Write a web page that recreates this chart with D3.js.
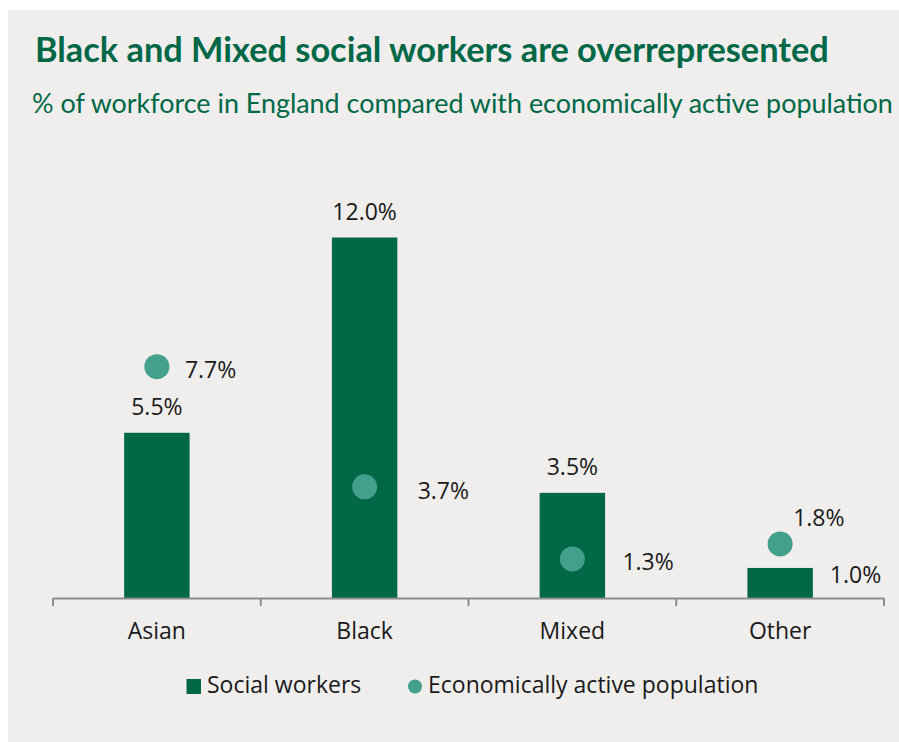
<!DOCTYPE html>
<html>
<head>
<meta charset="utf-8">
<script src="https://cdn.jsdelivr.net/npm/d3@7"></script>
<style>
  html, body { margin: 0; padding: 0; background: #ffffff; }
  svg { display: block; }
</style>
</head>
<body>
<svg id="chart" width="899" height="742"></svg>
<script>
// Ethnicity groups and the two series being compared (% of total)
const categories = ["Asian", "Black", "Mixed", "Other"];
const socialWorkers = [5.5, 12.0, 3.5, 1.0];
const activePopulation = [7.7, 3.7, 1.3, 1.8];
const seriesNames = ["Social workers", "Economically active population"];

// Label placement for each group
const barLabelPlacement = ["top", "top", "top", "right"];
const dotLabelOffset = [[28, 11], [53, 12], [50, 11], [13, -18]];

const W = 899, H = 742;
const green = "#006747";
const teal = "#43a08c";
const textColor = "#1a1a1a";
const bodyFont = "'Open Sans', 'Noto Sans', sans-serif";
const bodySize = 23;

const svg = d3.select("#chart");

// panel background
svg.append("rect")
  .attr("x", 8).attr("y", 10)
  .attr("width", W - 8).attr("height", H - 10)
  .attr("fill", "#efeeec");

// scale a text's font size so it spans the given width
function fitText(sel, target) {
  const node = sel.node();
  const base = parseFloat(sel.attr("font-size"));
  const w = node.getComputedTextLength();
  sel.attr("font-size", (base * target / w).toFixed(2));
}

const title = svg.append("text")
  .attr("x", 35).attr("y", 62)
  .attr("font-family", "Lato, 'Open Sans', sans-serif")
  .attr("font-weight", 700)
  .attr("font-size", 28)
  .attr("fill", green)
  .text("Black and Mixed social workers are overrepresented");
fitText(title, 794);

const subtitle = svg.append("text")
  .attr("x", 32).attr("y", 113)
  .attr("font-family", "Lato, 'Open Sans', sans-serif")
  .attr("font-size", 22)
  .attr("fill", green)
  .text("% of workforce in England compared with economically active population");
fitText(subtitle, 861);

// scales
const x = d3.scaleBand().domain(categories).range([53, 884]).padding(0);
const y = d3.scaleLinear().domain([0, 12]).range([598, 237.5]);
const barW = x.bandwidth() * 0.315;
const cx = d => x(d) + x.bandwidth() / 2;

// bars
svg.append("g").selectAll("rect")
  .data(categories)
  .join("rect")
  .attr("x", d => cx(d) - barW / 2)
  .attr("y", (d, i) => y(socialWorkers[i]))
  .attr("width", barW)
  .attr("height", (d, i) => y(0) - y(socialWorkers[i]))
  .attr("fill", green);

// x axis
const axis = svg.append("g")
  .attr("transform", `translate(0,${y(0)})`)
  .call(d3.axisBottom(x).tickSize(0).tickPadding(25));
axis.select(".domain").attr("stroke", "#8c8c8c").attr("stroke-width", 2);
axis.selectAll(".tick text")
  .attr("font-family", bodyFont)
  .attr("font-size", bodySize)
  .attr("fill", textColor);

// boundary ticks between groups
const boundaries = categories.map(c => x(c)).concat([x.range()[1]]);
axis.append("g").selectAll("line")
  .data(boundaries)
  .join("line")
  .attr("x1", d => d).attr("x2", d => d)
  .attr("y1", 0).attr("y2", 8)
  .attr("stroke", "#8c8c8c").attr("stroke-width", 2);

// dots for the economically active population
svg.append("g").selectAll("circle")
  .data(categories)
  .join("circle")
  .attr("cx", cx)
  .attr("cy", (d, i) => y(activePopulation[i]))
  .attr("r", 12.5)
  .attr("fill", teal);

// bar value labels
svg.append("g").selectAll("text")
  .data(categories)
  .join("text")
  .attr("x", (d, i) => barLabelPlacement[i] === "top" ? cx(d) : cx(d) + barW / 2 + 17)
  .attr("y", (d, i) => {
    const top = y(socialWorkers[i]);
    return barLabelPlacement[i] === "top" ? top - 18 : (top + y(0)) / 2 + 0.5;
  })
  .attr("text-anchor", (d, i) => barLabelPlacement[i] === "top" ? "middle" : "start")
  .attr("font-family", bodyFont)
  .attr("font-size", bodySize)
  .attr("fill", textColor)
  .text((d, i) => socialWorkers[i].toFixed(1) + "%");

// dot value labels
svg.append("g").selectAll("text")
  .data(categories)
  .join("text")
  .attr("x", (d, i) => cx(d) + dotLabelOffset[i][0])
  .attr("y", (d, i) => y(activePopulation[i]) + dotLabelOffset[i][1])
  .attr("font-family", bodyFont)
  .attr("font-size", bodySize)
  .attr("fill", textColor)
  .text((d, i) => activePopulation[i].toFixed(1) + "%");

// legend
const legend = svg.append("g").attr("transform", "translate(0,693)");
legend.append("rect")
  .attr("x", 186.5).attr("y", -14).attr("width", 14.5).attr("height", 15)
  .attr("fill", green);
legend.append("text")
  .attr("x", 207).attr("y", 0)
  .attr("font-family", bodyFont).attr("font-size", bodySize).attr("fill", textColor)
  .text(seriesNames[0]);
legend.append("circle")
  .attr("cx", 415).attr("cy", -6.5).attr("r", 7)
  .attr("fill", teal);
legend.append("text")
  .attr("x", 428).attr("y", 0)
  .attr("font-family", bodyFont).attr("font-size", bodySize).attr("fill", textColor)
  .text(seriesNames[1]);
</script>
</body>
</html>
